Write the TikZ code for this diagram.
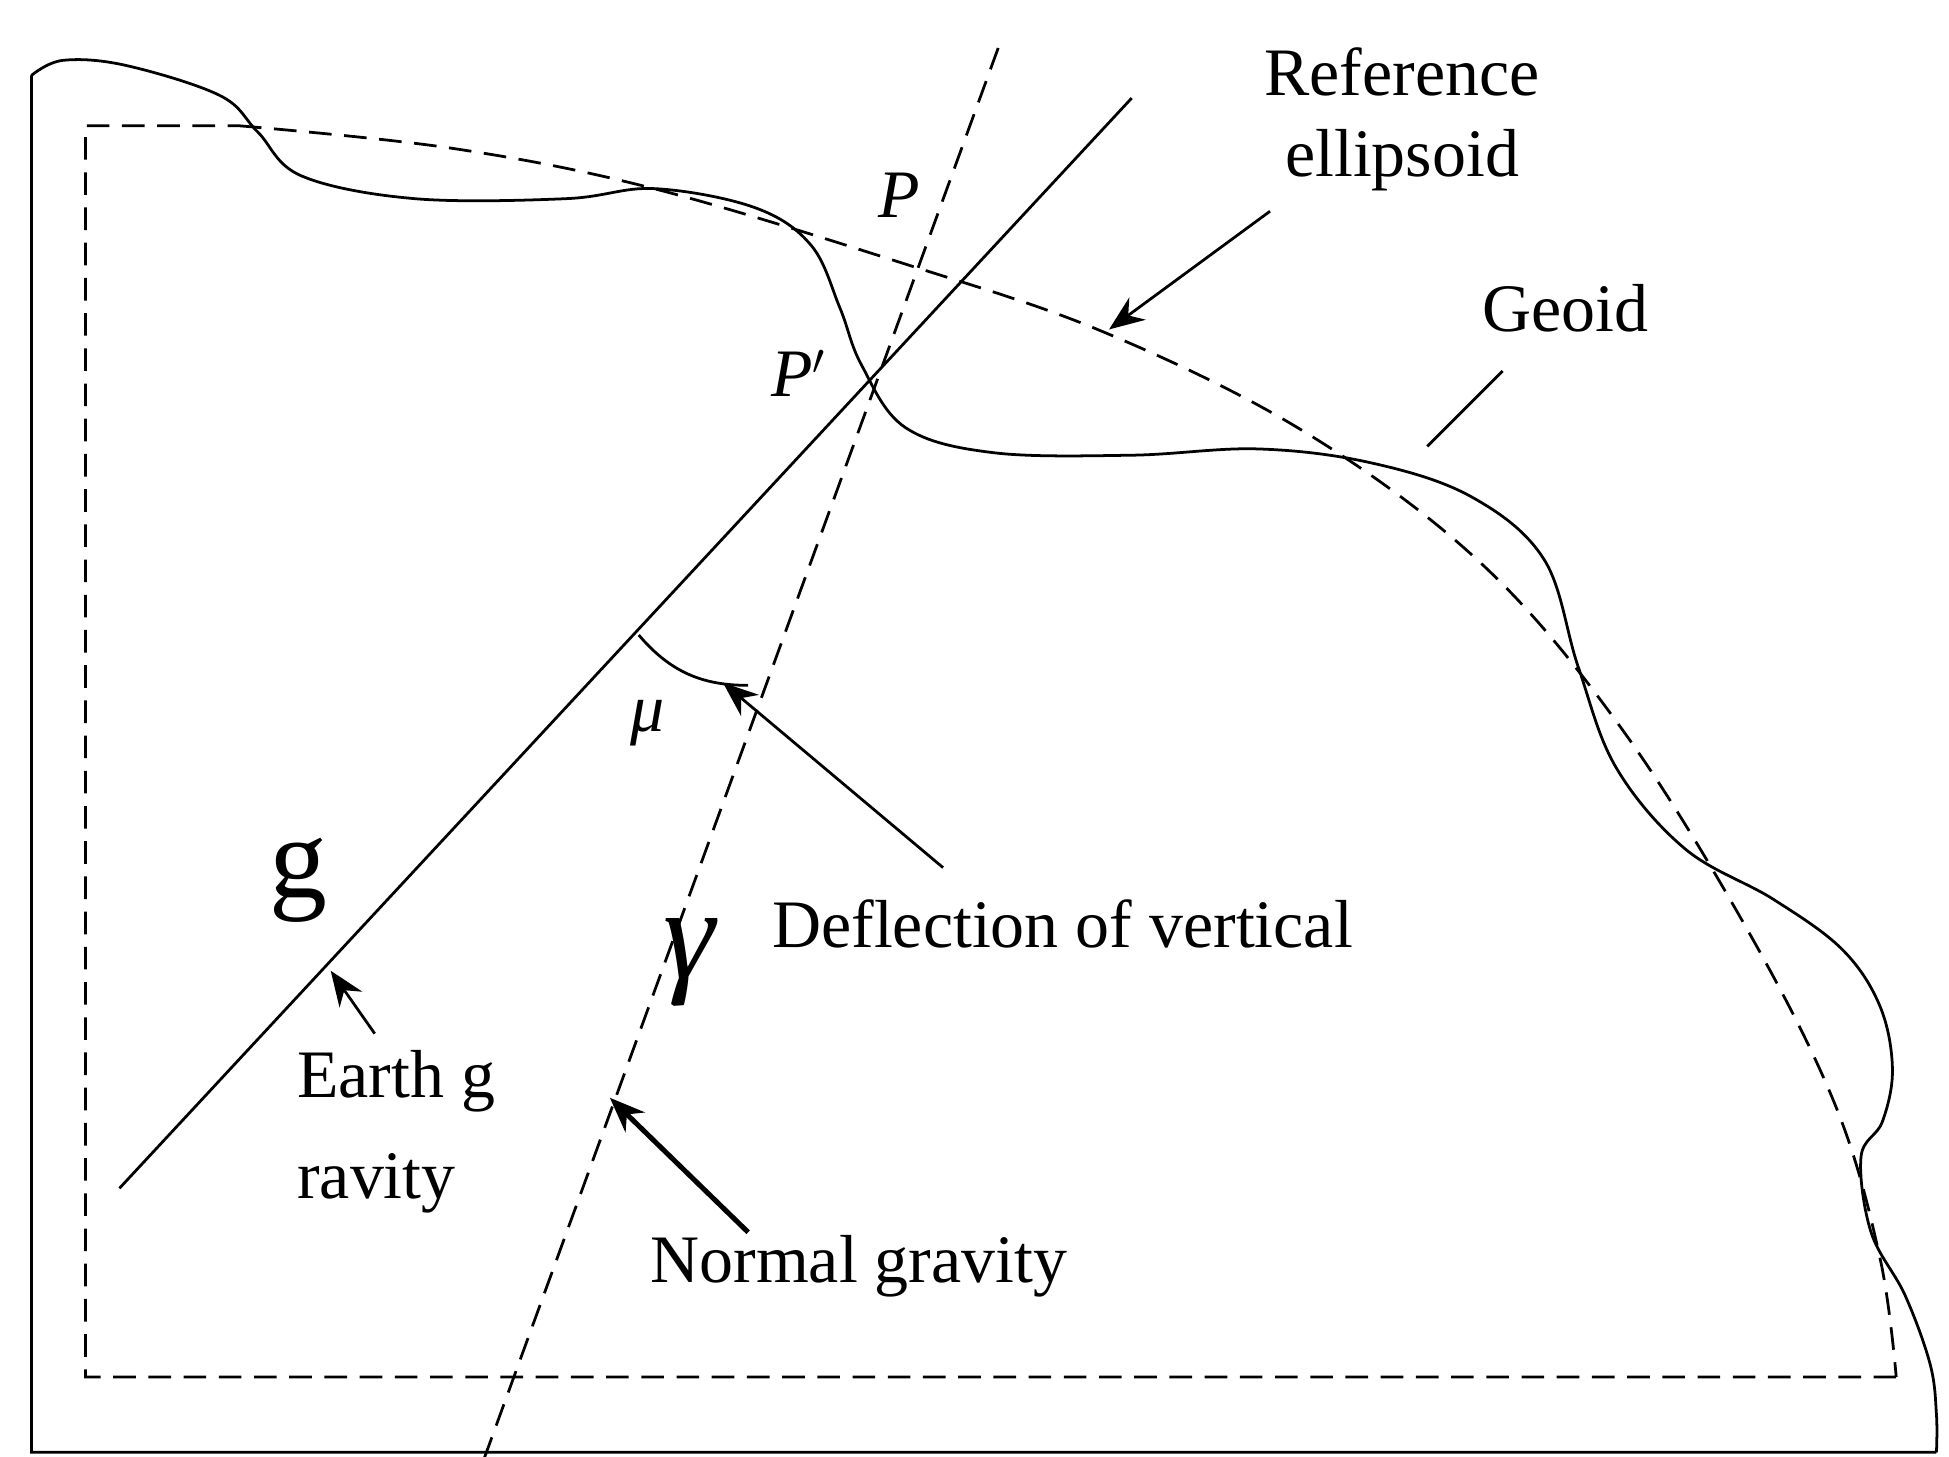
\documentclass[tikz,border=0pt]{standalone}
\usepackage{fontspec}
\setmainfont{Liberation Serif}
\usetikzlibrary{arrows.meta}
\begin{document}
\begin{tikzpicture}[x=0.5pt,y=-0.5pt,
  lbl/.style={font=\fontsize{27}{32}\selectfont,inner sep=0pt,align=center},
  ds/.style={dashed,dash pattern=on 9pt off 5pt,line width=1.1pt},
  sl/.style={line width=1.1pt},
  arr/.style={line width=1.1pt,-{Stealth[length=14pt,width=11pt]}}]
\useasboundingbox (0,0) rectangle (1550,1158);
% geoid
\draw[sl] (1540,1155) -- (25,1155) -- (25,60)
  plot[smooth,tension=0.6] coordinates {(25,60) (50,48) (100,52) (175,76) (205,105) (240,140) (330,158) (450,158) (520,150) (600,165) (645,195) (668,245) (685,290) (720,340) (790,360) (900,362) (1000,357) (1090,368) (1170,395) (1228,445) (1255,530) (1285,610) (1340,675) (1410,715) (1465,755) (1495,800) (1505,850) (1497,892) (1480,920) (1488,980) (1515,1030) (1535,1085) (1540,1125) (1540,1155)};
% ellipsoid
\draw[ds] (1508,1095) -- (68,1095) -- (68,100) -- (190,100)
  plot[smooth,tension=0.6] coordinates {(190,100) (360,118) (520,150) (720,210) (880,265) (1040,345) (1180,450) (1290,580) (1390,740) (1460,880) (1495,1000) (1508,1095)};
% lines
\coordinate (g1) at (95,945); \coordinate (g2) at (900,78);
\coordinate (n1) at (385,1160); \coordinate (n2) at (795,35);
\draw[sl] (g1) -- (g2);
\draw[ds] (n1) -- (n2);
\coordinate (a1) at (508,505); \coordinate (a2) at (595,545);
\draw[sl] (a1) to[bend right=25] (a2);
% labels
\node[lbl,font=\fontsize{27}{32}\selectfont\itshape] (P) at (715,155) {P};
\node[lbl,font=\fontsize{27}{32}\selectfont\itshape] (Pp) at (635,297) {P$'$};
\node[lbl,font=\fontsize{27}{32}\selectfont\itshape] (mu) at (515,575) {μ};
\node[lbl,font=\fontsize{46}{50}\selectfont] (g) at (237,700) {g};
\node[lbl,font=\fontsize{52}{56}\selectfont\itshape] (gam) at (548,765) {γ};
\node[lbl,align=left,anchor=north west] (eg) at (236,835) {Earth g\\[8pt]ravity};
\node[lbl] (ng) at (683,1007) {Normal gravity};
\node[lbl] (dv) at (845,735) {Deflection of vertical};
\node[lbl] (re) at (1115,95) {Reference\\ellipsoid};
\node[lbl] (ge) at (1245,245) {Geoid};
% pointers
\coordinate (t1) at (298,822); \coordinate (h1) at (263,772);
\draw[arr] (t1) -- (h1);
\coordinate (t2) at (595,980); \coordinate (h2) at (485,873);
\draw[arr,line width=2pt] (t2) -- (h2);
\coordinate (t3) at (750,690); \coordinate (h3) at (575,543);
\draw[arr] (t3) -- (h3);
\coordinate (t4) at (1010,168); \coordinate (h4) at (882,262);
\draw[arr] (t4) -- (h4);
\coordinate (t5) at (1195,295); \coordinate (h5) at (1135,355);
\draw[sl] (t5) -- (h5);
\end{tikzpicture}
\end{document}
